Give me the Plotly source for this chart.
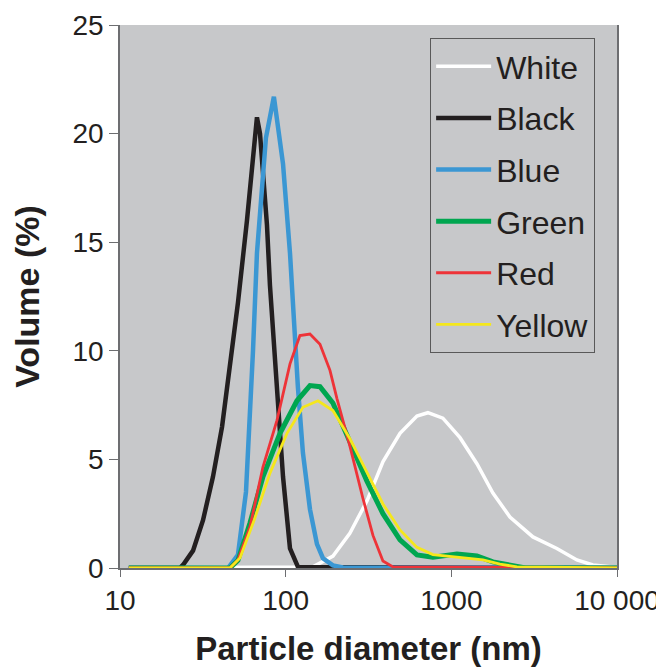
import plotly.graph_objects as go

# ---- data ----
white_d = [11.3, 146, 193, 244, 310, 387, 490, 620, 722, 889, 1128, 1427, 1782, 2258, 3107, 4335, 5728, 7161, 9440, 10000]
white_v = [0, 0.05, 0.55, 1.6, 3.1, 4.9, 6.2, 7.0, 7.15, 6.9, 6.0, 4.8, 3.45, 2.35, 1.43, 0.9, 0.37, 0.14, 0.05, 0.03]

black_d = [11.3, 23.0, 24.0, 27.6, 31.7, 36.4, 41.3, 46.1, 51.5, 58.4, 67.1, 70.0, 77.1, 80.4, 88.6, 96.4, 106.2, 118.6, 10000]
black_v = [0, 0, 0.14, 0.8, 2.2, 4.2, 6.5, 9.2, 12.2, 16.0, 20.75, 20.0, 15.8, 13.0, 8.0, 4.2, 0.9, 0.05, 0]

blue_d = [11.3, 44.9, 51.5, 57.6, 63.5, 67.1, 76.0, 84.9, 96.4, 106.2, 118.6, 127.1, 140.2, 154.5, 167.9, 192.8, 221.6, 10000]
blue_v = [0, 0, 0.6, 3.5, 10.0, 14.5, 19.8, 21.7, 18.6, 14.5, 8.3, 5.3, 2.7, 1.1, 0.45, 0.12, 0.02, 0]

green_d = [11.3, 46.1, 51.5, 60.9, 72.9, 92.4, 117.0, 140.2, 161.1, 192.8, 244.4, 309.5, 386.5, 489.8, 620, 774, 1081, 1427, 1782, 2354, 2800, 10000]
green_v = [0, 0, 0.35, 2.07, 4.2, 6.2, 7.7, 8.4, 8.35, 7.6, 5.8, 4.0, 2.5, 1.3, 0.6, 0.5, 0.64, 0.55, 0.28, 0.08, 0, 0]

red_d = [11.3, 46.1, 51.5, 60.9, 72.9, 88.6, 106.2, 121.9, 140.2, 161.1, 185.1, 204.0, 244.4, 292.8, 336.5, 386.5, 444.4, 10000]
red_v = [0, 0, 0.37, 1.9, 4.65, 6.8, 9.4, 10.7, 10.77, 10.3, 9.1, 7.8, 5.6, 3.2, 1.5, 0.32, 0.05, 0]

yellow_d = [11.3, 46.1, 53.0, 64.5, 80.4, 101.8, 127.1, 156.7, 192.8, 244.4, 309.5, 386.5, 489.8, 620, 774, 1128, 1551, 1964, 2489, 10000]
yellow_v = [0, 0, 0.46, 2.2, 4.37, 6.2, 7.4, 7.7, 7.25, 5.95, 4.4, 2.95, 1.75, 0.95, 0.62, 0.5, 0.37, 0.18, 0.05, 0]

x_tickvals = [10, 100, 1000, 10000]
x_ticktext = ["10", "100", "1000", "10 000"]
y_tickvals = [0, 5, 10, 15, 20, 25]

series = [
    ("White", white_d, white_v, "#ffffff", 3.5),
    ("Black", black_d, black_v, "#231f20", 4.5),
    ("Blue", blue_d, blue_v, "#3b97d3", 4.5),
    ("Green", green_d, green_v, "#00a650", 5),
    ("Red", red_d, red_v, "#ee3338", 2.8),
    ("Yellow", yellow_d, yellow_v, "#f5e71c", 2.8),
]

FONT = "Liberation Sans, Arial, sans-serif"
TXT = "#231f20"

fig = go.Figure()
for name, d, v, col, w in series:
    fig.add_trace(go.Scatter(x=d, y=v, mode="lines", name=name, legendgroup=name,
                             line=dict(color=col, width=w)))

# the page body has an 8 px margin, so the figure is sized/offset to compensate
fig.update_layout(
    width=656, height=661,
    margin=dict(l=112, r=47, t=17, b=101, autoexpand=False),
    paper_bgcolor="#ffffff",
    plot_bgcolor="#c7c8ca",
    font=dict(family=FONT, size=28, color=TXT),
    showlegend=True,
    legend=dict(
        x=0.624, y=0.976, xanchor="left", yanchor="top",
        bgcolor="rgba(0,0,0,0)", bordercolor="#595959", borderwidth=1,
        font=dict(family=FONT, size=32, color=TXT),
        itemwidth=55, tracegroupgap=7,
    ),
    xaxis=dict(
        type="log", range=[1, 4], automargin=False,
        tickvals=x_tickvals, ticktext=x_ticktext,
        showgrid=False, zeroline=False,
        showline=True, linecolor="#6d6e71", linewidth=1.5, mirror=False,
        ticks="outside", ticklen=7, tickcolor="#6d6e71", tickwidth=1,
        tickfont=dict(family=FONT, size=28, color=TXT),
        title=dict(text="<b>Particle diameter (nm)</b>", standoff=22,
                   font=dict(family=FONT, size=33, color=TXT)),
    ),
    yaxis=dict(
        range=[0, 25], automargin=False,
        tickvals=y_tickvals,
        showgrid=False, zeroline=False,
        showline=True, linecolor="#6d6e71", linewidth=1.5, mirror=True,
        ticks="outside", ticklen=9, tickcolor="#6d6e71", tickwidth=1,
        tickfont=dict(family=FONT, size=28, color=TXT),
        title=dict(text="<b>Volume (%)</b>", standoff=32,
                   font=dict(family=FONT, size=34, color=TXT)),
    ),
)

fig.write_html("out.html")
